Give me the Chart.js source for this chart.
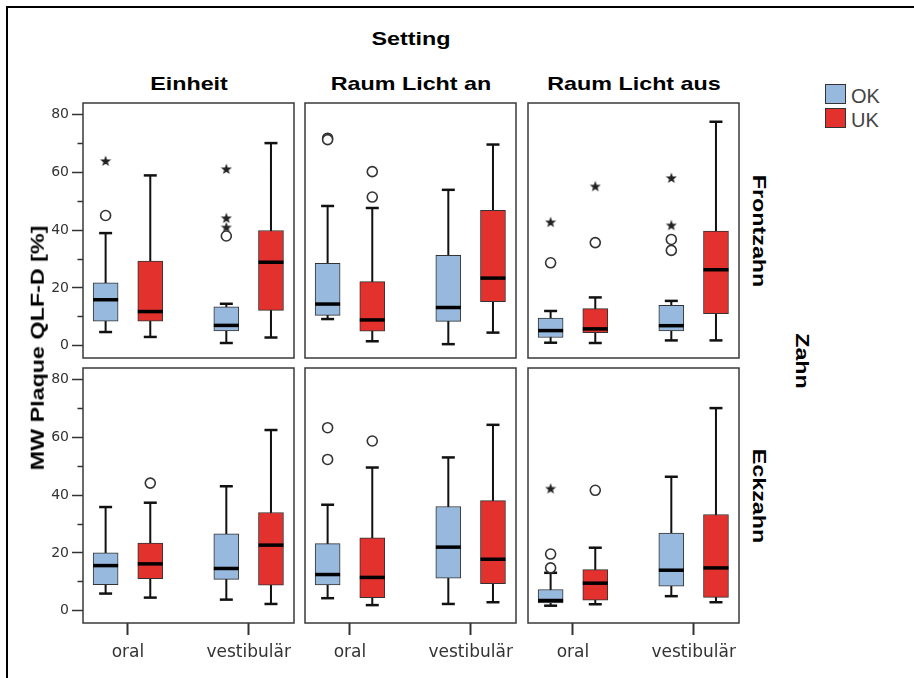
<!DOCTYPE html>
<html><head><meta charset="utf-8">
<script src="https://cdn.jsdelivr.net/npm/chart.js@4/dist/chart.umd.min.js"></script>
<style>
html,body{margin:0;padding:0;background:#fff;width:914px;height:678px;overflow:hidden;position:relative;font-family:"Liberation Sans",Arial,sans-serif;}
.frame{position:absolute;left:6px;top:6px;width:1000px;height:1000px;border-top:2px solid #000;border-left:2px solid #000;}
.t{position:absolute;white-space:nowrap;line-height:1;font-weight:bold;font-size:18.5px;color:#000;}
.pc{position:absolute;}
.leg{position:absolute;left:825px;width:19px;height:18px;border:1px solid #333;}
.legt{position:absolute;left:851px;font-size:20px;color:#444;line-height:1;white-space:nowrap;}
</style></head><body>
<div class="frame"></div>
<div id="root"></div>
<script>
// ---------- DATA ----------
const categories = ['oral', 'vestibulär'];
const settings = ['Einheit', 'Raum Licht an', 'Raum Licht aus'];
const teeth = ['Frontzahn', 'Eckzahn'];
const series = ['OK', 'UK'];
const yTickValues = [0, 10, 20, 30, 40, 50, 60, 70, 80];
const yTickLabels = ['0', '', '20', '', '40', '', '60', '', '80'];

// five-number summaries per category: [lower whisker, Q1, median, Q3, upper whisker]
const frontEinheitOK = [[4.7, 8.5, 15.9, 21.8, 39.0], [0.9, 5.1, 7.0, 13.4, 14.5]];
const frontEinheitUK = [[3.0, 8.5, 11.8, 29.3, 59.0], [2.8, 12.2, 28.9, 39.9, 70.2]];
const frontAnOK = [[9.2, 10.5, 14.4, 28.5, 48.4], [0.5, 8.4, 13.2, 31.3, 54.0]];
const frontAnUK = [[1.5, 5.0, 8.9, 22.2, 47.7], [4.5, 15.2, 23.4, 46.9, 69.7]];
const frontAusOK = [[1.0, 2.8, 5.2, 9.5, 12.0], [1.8, 5.1, 6.9, 14.0, 15.5]];
const frontAusUK = [[0.9, 4.5, 5.8, 12.8, 16.7], [1.8, 11.1, 26.3, 39.7, 77.6]];
const eckEinheitOK = [[5.9, 9.0, 15.6, 20.0, 35.9], [3.8, 10.8, 14.6, 26.6, 43.1]];
const eckEinheitUK = [[4.5, 11.1, 16.2, 23.4, 37.4], [2.3, 8.8, 22.7, 34.0, 62.6]];
const eckAnOK = [[4.3, 8.9, 12.5, 23.2, 36.7], [2.3, 11.2, 22.0, 36.1, 53.1]];
const eckAnUK = [[1.9, 4.5, 11.5, 25.2, 49.6], [2.9, 9.3, 17.8, 38.1, 64.4]];
const eckAusOK = [[1.7, 2.7, 3.5, 7.3, 13.1], [5.0, 8.5, 14.0, 26.9, 46.4]];
const eckAusUK = [[2.2, 3.6, 9.5, 14.2, 21.8], [2.9, 4.6, 14.8, 33.3, 70.2]];

// outliers (circles) per category
const frontEinheitOKOut = [[45.1], [38.0]];
const frontEinheitUKOut = [[], []];
const frontAnOKOut = [[71.9, 71.4], []];
const frontAnUKOut = [[60.3, 51.5], []];
const frontAusOKOut = [[28.7], [36.8, 33.0]];
const frontAusUKOut = [[35.7], []];
const eckEinheitOKOut = [[], []];
const eckEinheitUKOut = [[44.2], []];
const eckAnOKOut = [[63.4, 52.4], []];
const eckAnUKOut = [[58.8], []];
const eckAusOKOut = [[19.6, 14.8], []];
const eckAusUKOut = [[41.7], []];

// extreme values (stars) per category
const frontEinheitOKExt = [[64.0], [61.2, 44.2, 41.0]];
const frontEinheitUKExt = [[], []];
const frontAnOKExt = [[], []];
const frontAnUKExt = [[], []];
const frontAusOKExt = [[42.8], [58.1, 41.7]];
const frontAusUKExt = [[55.2], []];
const eckEinheitOKExt = [[], []];
const eckEinheitUKExt = [[], []];
const eckAnOKExt = [[], []];
const eckAnUKExt = [[], []];
const eckAusOKExt = [[42.3], []];
const eckAusUKExt = [[], []];

// lookup table [tooth][setting][series] -> {stats, out, ext}
const table = [
  [
    [{stats: frontEinheitOK, out: frontEinheitOKOut, ext: frontEinheitOKExt}, {stats: frontEinheitUK, out: frontEinheitUKOut, ext: frontEinheitUKExt}],
    [{stats: frontAnOK, out: frontAnOKOut, ext: frontAnOKExt}, {stats: frontAnUK, out: frontAnUKOut, ext: frontAnUKExt}],
    [{stats: frontAusOK, out: frontAusOKOut, ext: frontAusOKExt}, {stats: frontAusUK, out: frontAusUKOut, ext: frontAusUKExt}]
  ],
  [
    [{stats: eckEinheitOK, out: eckEinheitOKOut, ext: eckEinheitOKExt}, {stats: eckEinheitUK, out: eckEinheitUKOut, ext: eckEinheitUKExt}],
    [{stats: eckAnOK, out: eckAnOKOut, ext: eckAnOKExt}, {stats: eckAnUK, out: eckAnUKOut, ext: eckAnUKExt}],
    [{stats: eckAusOK, out: eckAusOKOut, ext: eckAusOKExt}, {stats: eckAusUK, out: eckAusUKOut, ext: eckAusUKExt}]
  ]
];

// ---------- STYLE / LAYOUT ----------
const seriesColors = ['#96b9dd', '#e3312d'];
const seriesOffset = [-0.185, 0.185];
const X_MIN = -0.3724, X_MAX = 1.3758;
const Y_MIN = -4.3, Y_MAX = 84.1;
const colLeft = [83, 305, 528], rowTop = [103, 368];
const PW = 211, PH = 255, PAD = 3, YW = 40, XH = 46;

Chart.defaults.font.family = 'DejaVu Sans';

function makeStar() {
  const c = document.createElement('canvas');
  c.width = 12; c.height = 12;
  const g = c.getContext('2d');
  g.fillStyle = '#222';
  g.beginPath();
  for (let k = 0; k < 10; k++) {
    const r = k % 2 ? 2.4 : 5.8;
    const a = -Math.PI / 2 + k * Math.PI / 5;
    g.lineTo(6 + r * Math.cos(a), 6.4 + r * Math.sin(a));
  }
  g.closePath(); g.fill();
  return c;
}
const starImg = makeStar();

const framePlugin = {
  id: 'frame',
  afterDraw(chart) {
    const {ctx, chartArea: a} = chart;
    ctx.save();
    ctx.strokeStyle = '#3a3a3a';
    ctx.lineWidth = 1.5;
    ctx.strokeRect(a.left, a.top, a.right - a.left, a.bottom - a.top);
    ctx.restore();
  }
};

function buildDatasets(cell) {
  const ds = [];
  cell.forEach((s, si) => {
    const xs = categories.map((_, i) => i + seriesOffset[si]);
    ds.push({
      type: 'scatter', showLine: true, order: 5,
      data: s.stats.flatMap((st, i) => [{x: xs[i], y: st[0]}, {x: xs[i], y: st[4]}, {x: xs[i], y: null}]),
      borderColor: '#111', borderWidth: 2, pointRadius: 0, spanGaps: false
    });
    ds.push({
      type: 'bar', order: 4, grouped: false, barThickness: 25,
      data: s.stats.map((st, i) => ({x: xs[i], y: [st[1], st[3]]})),
      backgroundColor: seriesColors[si], borderColor: '#333', borderWidth: 1, borderSkipped: false
    });
    ds.push({
      type: 'scatter', order: 3,
      data: s.stats.flatMap((st, i) => [{x: xs[i], y: st[0]}, {x: xs[i], y: st[4]}]),
      pointStyle: 'line', pointRadius: 6.5, pointBorderWidth: 2.5, pointBorderColor: '#111'
    });
    ds.push({
      type: 'scatter', order: 3,
      data: s.stats.map((st, i) => ({x: xs[i], y: st[2]})),
      pointStyle: 'line', pointRadius: 12.5, pointBorderWidth: 3.5, pointBorderColor: '#000'
    });
    ds.push({
      type: 'scatter', order: 2,
      data: s.out.flatMap((arr, i) => arr.map(v => ({x: xs[i], y: v}))),
      pointStyle: 'circle', pointRadius: 5, pointBorderWidth: 1.6, pointBorderColor: '#333', pointBackgroundColor: '#fff'
    });
    ds.push({
      type: 'scatter', order: 2,
      data: s.ext.flatMap((arr, i) => arr.map(v => ({x: xs[i], y: v}))),
      pointStyle: starImg, pointRadius: 5
    });
  });
  return ds;
}

const root = document.getElementById('root');
teeth.forEach((tooth, r) => {
  settings.forEach((setting, c) => {
    const showY = c === 0, showX = r === 1;
    const left = colLeft[c] - PAD - (showY ? YW : 0);
    const top = rowTop[r] - PAD;
    const w = PW + 2 * PAD + (showY ? YW : 0);
    const h = PH + 2 * PAD + (showX ? XH : 0);
    const div = document.createElement('div');
    div.className = 'pc';
    div.style.left = left + 'px'; div.style.top = top + 'px';
    div.style.width = w + 'px'; div.style.height = h + 'px';
    const cv = document.createElement('canvas');
    cv.width = w; cv.height = h;
    div.appendChild(cv); root.appendChild(div);
    new Chart(cv, {
      type: 'bar',
      data: {datasets: buildDatasets(table[r][c])},
      options: {
        responsive: false, animation: false, events: [],
        layout: {padding: PAD, autoPadding: false},
        plugins: {legend: {display: false}, tooltip: {enabled: false}},
        scales: {
          x: {
            type: 'linear', min: X_MIN, max: X_MAX, offset: false, display: showX,
            afterBuildTicks: s => { s.ticks = categories.map((_, i) => ({value: i})); },
            afterFit: s => { s.height = showX ? XH : 0; s.paddingLeft = 0; s.paddingRight = 0; },
            ticks: {callback: (v, i) => categories[i], font: {size: 17}, color: '#333', padding: 7, maxRotation: 0, autoSkip: false},
            grid: {display: true, drawOnChartArea: false, offset: false, tickLength: 12, tickWidth: 2, tickColor: '#333'},
            border: {display: false}
          },
          y: {
            type: 'linear', min: Y_MIN, max: Y_MAX, display: showY,
            afterBuildTicks: s => { s.ticks = yTickValues.map(v => ({value: v})); },
            afterFit: s => { s.width = showY ? YW : 0; s.paddingTop = 0; s.paddingBottom = 0; },
            ticks: {callback: (v, i) => yTickLabels[i], font: {size: 14, lineHeight: 0.4}, color: '#333', padding: 3, autoSkip: false},
            grid: {display: true, drawOnChartArea: false, tickLength: 11, tickWidth: 1.5, tickColor: '#333',
              tickBorderDash: ctx => (ctx.tick && yTickLabels[ctx.index] === '') ? [0, 5.5, 100] : []},
            border: {display: false}
          }
        }
      },
      plugins: [framePlugin]
    });
  });
});

// ---------- TEXT ----------
function label(text, cx, cy, rot, sx) {
  const d = document.createElement('div');
  d.className = 't';
  d.textContent = text;
  d.style.left = cx + 'px'; d.style.top = cy + 'px';
  d.style.transform = `translate(-50%,-50%) rotate(${rot}deg) scaleX(${sx})`;
  root.appendChild(d);
}
const SX = 1.26;
label('Setting', 411, 38.5, 0, SX);
settings.forEach((s, c) => label(s, colLeft[c] + PW / 2, 83.5, 0, SX));
teeth.forEach((t, r) => label(t, 758.8, rowTop[r] + PH / 2, 90, SX));
label('Zahn', 801.7, 361, 90, SX);
label('MW Plaque QLF-D [%]', 37.5, 348, -90, SX);

// legend
series.forEach((s, i) => {
  const b = document.createElement('div');
  b.className = 'leg';
  b.style.top = (84 + i * 24.3) + 'px';
  b.style.background = seriesColors[i];
  root.appendChild(b);
  const t = document.createElement('div');
  t.className = 'legt';
  t.style.top = (86 + i * 24.3) + 'px';
  t.textContent = s;
  root.appendChild(t);
});
</script>
</body></html>
